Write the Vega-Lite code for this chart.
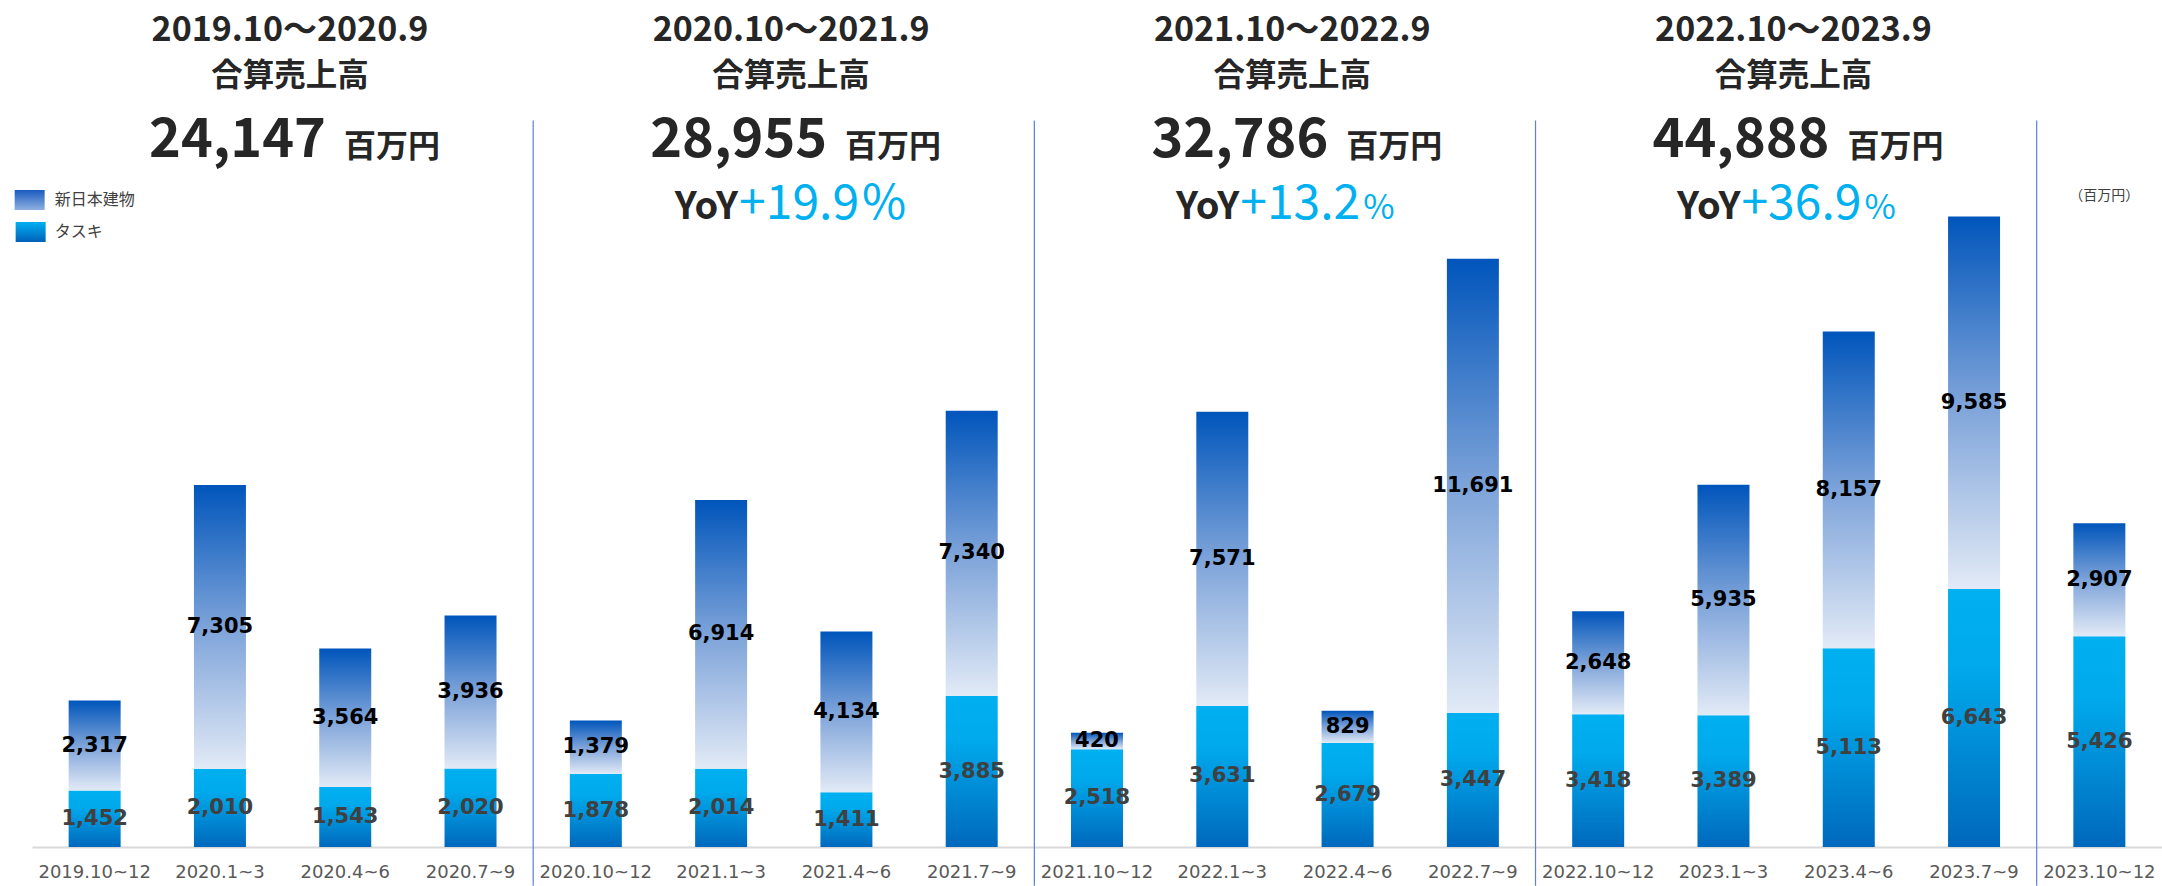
{
  "$schema": "https://vega.github.io/schema/vega-lite/v6.json",
  "width": 2130,
  "height": 847,
  "autosize": {"type": "none"},
  "padding": {"left": 32, "top": 0, "right": 0, "bottom": 39},
  "background": "#ffffff",
  "config": {"view": {"stroke": null}},
  "datasets": {
    "sales": [
      {"quarter": "2019.10~12", "series": "タスキ", "value": 1452},
      {"quarter": "2019.10~12", "series": "新日本建物", "value": 2317},
      {"quarter": "2020.1~3", "series": "タスキ", "value": 2010},
      {"quarter": "2020.1~3", "series": "新日本建物", "value": 7305},
      {"quarter": "2020.4~6", "series": "タスキ", "value": 1543},
      {"quarter": "2020.4~6", "series": "新日本建物", "value": 3564},
      {"quarter": "2020.7~9", "series": "タスキ", "value": 2020},
      {"quarter": "2020.7~9", "series": "新日本建物", "value": 3936},
      {"quarter": "2020.10~12", "series": "タスキ", "value": 1878},
      {"quarter": "2020.10~12", "series": "新日本建物", "value": 1379},
      {"quarter": "2021.1~3", "series": "タスキ", "value": 2014},
      {"quarter": "2021.1~3", "series": "新日本建物", "value": 6914},
      {"quarter": "2021.4~6", "series": "タスキ", "value": 1411},
      {"quarter": "2021.4~6", "series": "新日本建物", "value": 4134},
      {"quarter": "2021.7~9", "series": "タスキ", "value": 3885},
      {"quarter": "2021.7~9", "series": "新日本建物", "value": 7340},
      {"quarter": "2021.10~12", "series": "タスキ", "value": 2518},
      {"quarter": "2021.10~12", "series": "新日本建物", "value": 420},
      {"quarter": "2022.1~3", "series": "タスキ", "value": 3631},
      {"quarter": "2022.1~3", "series": "新日本建物", "value": 7571},
      {"quarter": "2022.4~6", "series": "タスキ", "value": 2679},
      {"quarter": "2022.4~6", "series": "新日本建物", "value": 829},
      {"quarter": "2022.7~9", "series": "タスキ", "value": 3447},
      {"quarter": "2022.7~9", "series": "新日本建物", "value": 11691},
      {"quarter": "2022.10~12", "series": "タスキ", "value": 3418},
      {"quarter": "2022.10~12", "series": "新日本建物", "value": 2648},
      {"quarter": "2023.1~3", "series": "タスキ", "value": 3389},
      {"quarter": "2023.1~3", "series": "新日本建物", "value": 5935},
      {"quarter": "2023.4~6", "series": "タスキ", "value": 5113},
      {"quarter": "2023.4~6", "series": "新日本建物", "value": 8157},
      {"quarter": "2023.7~9", "series": "タスキ", "value": 6643},
      {"quarter": "2023.7~9", "series": "新日本建物", "value": 9585},
      {"quarter": "2023.10~12", "series": "タスキ", "value": 5426},
      {"quarter": "2023.10~12", "series": "新日本建物", "value": 2907}
    ],
    "headers": [
      {"quarter": "2020.1~3", "period": "2019.10～2020.9", "title": "合算売上高", "total": "24,147", "unit": "百万円", "yoy": "", "pct": "", "sign": ""},
      {"quarter": "2021.1~3", "period": "2020.10～2021.9", "title": "合算売上高", "total": "28,955", "unit": "百万円", "yoy": "YoY", "pct": "+19.9", "sign": "%"},
      {"quarter": "2022.1~3", "period": "2021.10～2022.9", "title": "合算売上高", "total": "32,786", "unit": "百万円", "yoy": "YoY", "pct": "+13.2", "sign": "%"},
      {"quarter": "2023.1~3", "period": "2022.10～2023.9", "title": "合算売上高", "total": "44,888", "unit": "百万円", "yoy": "YoY", "pct": "+36.9", "sign": "%"}
    ],
    "seps": [
      {"quarter": "2020.10~12"},
      {"quarter": "2021.10~12"},
      {"quarter": "2022.10~12"},
      {"quarter": "2023.10~12"}
    ],
    "note": [
      {"quarter": "2023.10~12", "note": "（百万円）"}
    ],
    "legend": [
      {"quarter": "2019.10~12", "series": "新日本建物"},
      {"quarter": "2019.10~12", "series": "タスキ"}
    ]
  },
  "encoding": {
    "x": {
      "field": "quarter",
      "type": "nominal",
      "sort": ["2019.10~12", "2020.1~3", "2020.4~6", "2020.7~9", "2020.10~12", "2021.1~3", "2021.4~6", "2021.7~9", "2021.10~12", "2022.1~3", "2022.4~6", "2022.7~9", "2022.10~12", "2023.1~3", "2023.4~6", "2023.7~9", "2023.10~12"],
      "scale": {
        "domain": ["2019.10~12", "2020.1~3", "2020.4~6", "2020.7~9", "2020.10~12", "2021.1~3", "2021.4~6", "2021.7~9", "2021.10~12", "2022.1~3", "2022.4~6", "2022.7~9", "2022.10~12", "2023.1~3", "2023.4~6", "2023.7~9", "2023.10~12"],
        "paddingInner": 0.585,
        "paddingOuter": 0.2925
      },
      "axis": {
        "title": null,
        "labelAngle": 0,
        "labelFont": "DejaVu Sans",
        "labelFontSize": 18,
        "labelColor": "#595959",
        "labelPadding": 16,
        "ticks": false,
        "domainColor": "#D9D9D9",
        "domainWidth": 2,
        "grid": false
      }
    }
  },
  "layer": [
    {
      "layer": [
        {
          "data": {"name": "sales"},
          "transform": [
            {"stack": "value", "groupby": ["quarter"], "sort": [{"field": "series", "order": "ascending"}], "as": ["v0", "v1"]},
            {"filter": "datum.series === 'タスキ'"}
          ],
          "mark": {"type": "bar", "color": {"gradient": "linear", "x1": 0, "y1": 0, "x2": 0, "y2": 1, "stops": [
            {"offset": 0, "color": "#00B0F0"},
            {"offset": 0.3, "color": "#00A9EB"},
            {"offset": 1, "color": "#0068BC"}
          ]}},
          "encoding": {
            "y": {"field": "v1", "type": "quantitative", "scale": {"domain": [0, 21800], "nice": false, "zero": true}, "axis": null},
            "y2": {"field": "v0"}
          }
        },
        {
          "data": {"name": "sales"},
          "transform": [
            {"stack": "value", "groupby": ["quarter"], "sort": [{"field": "series", "order": "ascending"}], "as": ["v0", "v1"]},
            {"filter": "datum.series === '新日本建物'"}
          ],
          "mark": {"type": "bar", "color": {"gradient": "linear", "x1": 0, "y1": 0, "x2": 0, "y2": 1, "stops": [
            {"offset": 0, "color": "#0055BB"},
            {"offset": 0.5, "color": "#7DA3D9"},
            {"offset": 1, "color": "#E2EAF6"}
          ]}},
          "encoding": {
            "y": {"field": "v1", "type": "quantitative"},
            "y2": {"field": "v0"}
          }
        },
        {
          "data": {"name": "sales"},
          "transform": [
            {"stack": "value", "groupby": ["quarter"], "sort": [{"field": "series", "order": "ascending"}], "as": ["v0", "v1"]},
            {"calculate": "(datum.v0 + datum.v1) / 2", "as": "mid"},
            {"filter": "datum.series === 'タスキ'"}
          ],
          "mark": {"type": "text", "font": "DejaVu Sans", "fontWeight": "bold", "fontSize": 21, "color": "#404040", "baseline": "middle"},
          "encoding": {
            "y": {"field": "mid", "type": "quantitative"},
            "text": {"field": "value", "type": "quantitative", "format": ","}
          }
        },
        {
          "data": {"name": "sales"},
          "transform": [
            {"stack": "value", "groupby": ["quarter"], "sort": [{"field": "series", "order": "ascending"}], "as": ["v0", "v1"]},
            {"calculate": "(datum.v0 + datum.v1) / 2", "as": "mid"},
            {"filter": "datum.series === '新日本建物'"}
          ],
          "mark": {"type": "text", "font": "DejaVu Sans", "fontWeight": "bold", "fontSize": 21, "color": "#000000", "baseline": "middle"},
          "encoding": {
            "y": {"field": "mid", "type": "quantitative"},
            "text": {"field": "value", "type": "quantitative", "format": ","}
          }
        },
        {
          "data": {"name": "seps"},
          "mark": {"type": "rule", "color": "#5B80D0", "strokeWidth": 1.2, "xOffset": -62.65},
          "encoding": {
            "y": {"datum": 18700, "type": "quantitative"},
            "y2": {"datum": -1000}
          }
        }
      ]
    },
    {
      "layer": [
        {
          "data": {"name": "headers"},
          "mark": {"type": "text", "font": "Noto Sans CJK JP", "fontWeight": "bold", "fontSize": 34, "color": "#262626", "align": "center", "baseline": "alphabetic", "dx": 70, "dy": 14},
          "encoding": {
            "y": {"datum": "period", "type": "ordinal", "scale": {"type": "point", "domain": ["period", "title", "total", "yoy"], "range": [27, 204], "padding": 0}, "axis": null},
            "text": {"field": "period"}
          }
        },
        {
          "data": {"name": "headers"},
          "mark": {"type": "text", "font": "Noto Sans CJK JP", "fontWeight": "bold", "fontSize": 31.5, "color": "#262626", "align": "center", "baseline": "middle", "dx": 70, "dy": -9},
          "encoding": {
            "y": {"datum": "title", "type": "ordinal"},
            "text": {"field": "title"}
          }
        },
        {
          "data": {"name": "headers"},
          "mark": {"type": "text", "font": "Noto Sans CJK JP", "fontWeight": "bold", "fontSize": 54, "color": "#262626", "align": "right", "baseline": "alphabetic", "dx": 106, "dy": 12},
          "encoding": {
            "y": {"datum": "total", "type": "ordinal"},
            "text": {"field": "total"}
          }
        },
        {
          "data": {"name": "headers"},
          "mark": {"type": "text", "font": "Noto Sans CJK JP", "fontWeight": "bold", "fontSize": 32, "color": "#262626", "align": "left", "baseline": "alphabetic", "dx": 124, "dy": 12},
          "encoding": {
            "y": {"datum": "total", "type": "ordinal"},
            "text": {"field": "unit"}
          }
        },
        {
          "data": {"name": "headers"},
          "mark": {"type": "text", "font": "Noto Sans CJK JP", "fontWeight": "bold", "fontSize": 38, "color": "#262626", "align": "right", "baseline": "alphabetic", "dx": 17, "dy": 15},
          "encoding": {
            "y": {"datum": "yoy", "type": "ordinal"},
            "text": {"field": "yoy"}
          }
        },
        {
          "data": {"name": "headers"},
          "mark": {"type": "text", "font": "Noto Sans CJK JP", "fontWeight": "normal", "fontSize": 48, "color": "#00B0F0", "align": "left", "baseline": "alphabetic", "dx": 18, "dy": 15},
          "encoding": {
            "y": {"datum": "yoy", "type": "ordinal"},
            "text": {"field": "pct"}
          }
        },
        {
          "data": {"name": "headers"},
          "transform": [{"filter": "datum.quarter === '2021.1~3'"}],
          "mark": {"type": "text", "font": "Noto Sans CJK JP", "fontWeight": "normal", "fontSize": 48, "color": "#00B0F0", "align": "left", "baseline": "alphabetic", "dx": 141, "dy": 15},
          "encoding": {
            "y": {"datum": "yoy", "type": "ordinal"},
            "text": {"field": "sign"}
          }
        },
        {
          "data": {"name": "headers"},
          "transform": [{"filter": "datum.quarter !== '2021.1~3'"}],
          "mark": {"type": "text", "font": "Noto Sans CJK JP", "fontWeight": "normal", "fontSize": 34, "color": "#00B0F0", "align": "left", "baseline": "alphabetic", "dx": 141, "dy": 15},
          "encoding": {
            "y": {"datum": "yoy", "type": "ordinal"},
            "text": {"field": "sign"}
          }
        },
        {
          "data": {"name": "note"},
          "mark": {"type": "text", "font": "Noto Sans CJK JP", "fontSize": 14, "color": "#404040", "align": "center", "baseline": "middle", "dx": 5, "dy": -8},
          "encoding": {
            "y": {"datum": "yoy", "type": "ordinal"},
            "text": {"field": "note"}
          }
        }
      ]
    },
    {
      "layer": [
        {
          "data": {"name": "legend"},
          "transform": [{"filter": "datum.series === '新日本建物'"}],
          "mark": {"type": "point", "shape": "M-1.5,-1L1.5,-1L1.5,1L-1.5,1Z", "size": 400, "filled": true, "opacity": 1, "strokeWidth": 0, "xOffset": -65,
            "color": {"gradient": "linear", "x1": 0, "y1": 0, "x2": 0, "y2": 1, "stops": [
              {"offset": 0, "color": "#1A5BBF"},
              {"offset": 1, "color": "#8FB0E0"}
            ]}},
          "encoding": {
            "y": {"field": "series", "type": "ordinal", "scale": {"type": "point", "domain": ["新日本建物", "タスキ"], "range": [200, 232], "padding": 0}, "axis": null}
          }
        },
        {
          "data": {"name": "legend"},
          "transform": [{"filter": "datum.series === 'タスキ'"}],
          "mark": {"type": "point", "shape": "M-1.5,-1L1.5,-1L1.5,1L-1.5,1Z", "size": 400, "filled": true, "opacity": 1, "strokeWidth": 0, "xOffset": -64,
            "color": {"gradient": "linear", "x1": 0, "y1": 0, "x2": 0, "y2": 1, "stops": [
              {"offset": 0, "color": "#00B0F0"},
              {"offset": 1, "color": "#0060B8"}
            ]}},
          "encoding": {
            "y": {"field": "series", "type": "ordinal"}
          }
        },
        {
          "data": {"name": "legend"},
          "mark": {"type": "text", "font": "Noto Sans CJK JP", "fontSize": 16, "color": "#404040", "align": "left", "baseline": "middle", "dx": -40},
          "encoding": {
            "y": {"field": "series", "type": "ordinal"},
            "text": {"field": "series"}
          }
        }
      ]
    }
  ],
  "resolve": {"scale": {"y": "independent"}}
}
